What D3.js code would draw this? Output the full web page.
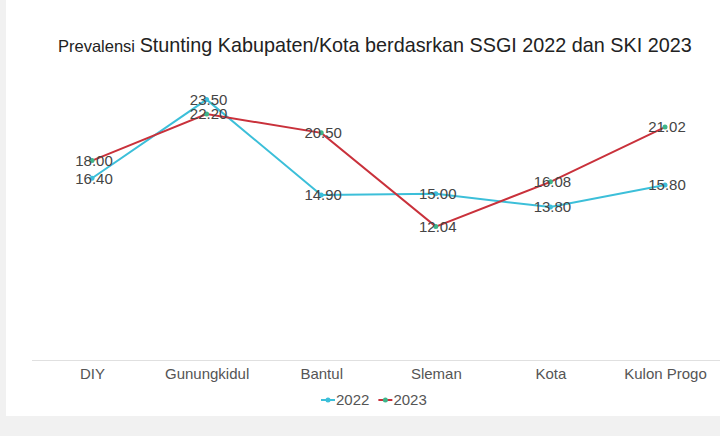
<!DOCTYPE html>
<html><head><meta charset="utf-8">
<script src="https://cdn.jsdelivr.net/npm/d3@7"></script>
<style>
html,body{margin:0;padding:0;background:#f1f1f1;}
svg{display:block;}
</style></head>
<body>
<svg id="chart" width="720" height="436"></svg>
<script>
const categories = ["DIY","Gunungkidul","Bantul","Sleman","Kota","Kulon Progo"];
const values2022 = [16.40, 23.50, 14.90, 15.00, 13.80, 15.80];
const values2023 = [18.00, 22.20, 20.50, 12.04, 16.08, 21.02];
const seriesNames = ["2022","2023"];

const W = 720, H = 436;
const svg = d3.select("#chart");
svg.append("rect").attr("x",6).attr("y",0).attr("width",W-6).attr("height",416).attr("fill","#fff");

const x = d3.scalePoint().domain(categories).range([92, 665]);
const y = d3.scaleLinear().domain([0, 25]).range([360, 83]);

const font = "'Liberation Sans', Arial, sans-serif";

// title
const title = svg.append("text").attr("x", 58).attr("y", 52).attr("font-family", font).attr("fill","#222");
title.append("tspan").attr("font-size", 16.5).text("Prevalensi ");
title.append("tspan").attr("font-size", 19.8).text("Stunting Kabupaten/Kota berdasrkan SSGI 2022 dan SKI 2023");

// axis
const xAxis = d3.axisBottom(x).tickSize(0).tickPadding(8);
const gx = svg.append("g").attr("transform","translate(0,360)").call(xAxis);
gx.select(".domain").attr("d","M32,0.5H720").attr("stroke","#e0e0e0");
gx.selectAll("text").attr("font-family", font).attr("font-size", 15).attr("fill","#555").attr("dy","0.7em");

const series = [
  {name: seriesNames[0], values: values2022, line: "#3cbfd9", dot: "#3cbfd9"},
  {name: seriesNames[1], values: values2023, line: "#c9313b", dot: "#3db58a"}
];

const line = d3.line().x((d,i)=>x(categories[i])).y(d=>y(d));

series.forEach(s => {
  svg.append("path").datum(s.values).attr("d", line).attr("fill","none")
    .attr("stroke", s.line).attr("stroke-width", 2);
});
series.forEach(s => {
  svg.append("g").selectAll("circle").data(s.values).join("circle")
    .attr("cx",(d,i)=>x(categories[i])).attr("cy",d=>y(d)).attr("r",2.5).attr("fill", s.dot);
});
series.forEach(s => {
  svg.append("g").selectAll("text").data(s.values).join("text")
    .attr("x",(d,i)=>x(categories[i])+2).attr("y",d=>y(d)).attr("dy","0.35em")
    .attr("text-anchor","middle").attr("font-family", font).attr("font-size", 15)
    .attr("fill","#444").text(d=>d3.format(".2f")(d));
});

// legend
const leg = svg.append("g").attr("transform","translate(321,400)");
let lx = 0;
series.forEach(s => {
  const g = leg.append("g").attr("transform",`translate(${lx},0)`);
  g.append("line").attr("x1",0).attr("x2",14).attr("y1",0).attr("y2",0).attr("stroke",s.line).attr("stroke-width",2);
  g.append("circle").attr("cx",7).attr("cy",0).attr("r",2.5).attr("fill",s.dot);
  const t = g.append("text").attr("x",15).attr("y",0).attr("dy","0.35em").attr("font-family",font)
    .attr("font-size",15).attr("fill","#555").text(s.name);
  lx += 15 + t.node().getComputedTextLength() + 9;
});
</script>
</body></html>
